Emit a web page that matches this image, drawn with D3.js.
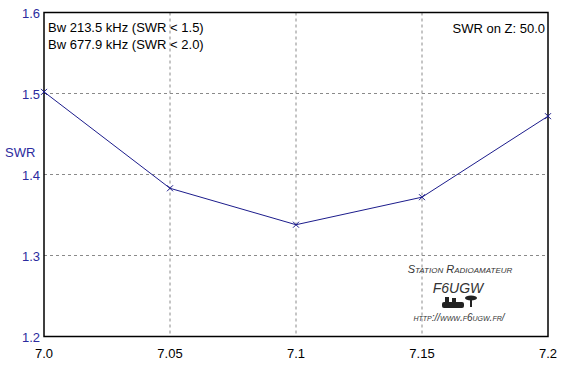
<!DOCTYPE html>
<html><head><meta charset="utf-8">
<script src="https://cdn.jsdelivr.net/npm/d3@7"></script>
<style>body{margin:0;background:#fff}svg{display:block}text{font-family:"Liberation Sans",Arial,sans-serif}</style>
</head><body>
<svg id="c" width="564" height="365"></svg>
<script>
const freqs = [7.0, 7.05, 7.1, 7.15, 7.2];
const swr = [1.502, 1.383, 1.338, 1.372, 1.472];
const xTicks = [7.0, 7.05, 7.1, 7.15, 7.2];
const xTickLabels = ["7.0", "7.05", "7.1", "7.15", "7.2"];
const yTicks = [1.2, 1.3, 1.4, 1.5, 1.6];
const yTickLabels = ["1.2", "1.3", "1.4", "1.5", "1.6"];
const infoLines = ["Bw 213.5 kHz (SWR < 1.5)", "Bw 677.9 kHz (SWR < 2.0)"];
const zLabel = "SWR on Z: 50.0";

const L = 44, R = 548, T = 12.5, B = 336.5;
const svg = d3.select("#c");
const x = d3.scaleLinear().domain([7.0, 7.2]).range([L, R]);
const y = d3.scaleLinear().domain([1.2, 1.6]).range([B, T]);

// grid
const g = svg.append("g");
g.selectAll(".hg").data(yTicks.slice(1, -1)).enter().append("line")
  .attr("x1", L).attr("x2", R).attr("y1", d => y(d)).attr("y2", d => y(d))
  .attr("stroke", "#8a8a8a").attr("stroke-dasharray", "3,3").attr("stroke-width", 1);
g.selectAll(".vg").data(xTicks.slice(1, -1)).enter().append("line")
  .attr("y1", T).attr("y2", B).attr("x1", d => x(d)).attr("x2", d => x(d))
  .attr("stroke", "#8a8a8a").attr("stroke-dasharray", "3,3").attr("stroke-width", 1);

// watermark
const wm = svg.append("g").attr("fill", "#333").attr("text-anchor", "middle");
wm.append("text").attr("x", 460).attr("y", 273).attr("font-size", 11).attr("font-style", "italic")
  .style("font-variant", "small-caps").text("Station Radioamateur");
wm.append("text").attr("x", 458).attr("y", 293).attr("font-size", 14).attr("font-style", "italic").text("F6UGW");
const ic = wm.append("g").attr("fill", "#222");
ic.append("rect").attr("x", 442).attr("y", 302).attr("width", 22).attr("height", 6).attr("rx", 2);
ic.append("rect").attr("x", 445).attr("y", 297).attr("width", 4).attr("height", 6);
ic.append("rect").attr("x", 452).attr("y", 298).attr("width", 4).attr("height", 5);
ic.append("ellipse").attr("cx", 471).attr("cy", 298).attr("rx", 6).attr("ry", 2.5);
ic.append("rect").attr("x", 470).attr("y", 299).attr("width", 2).attr("height", 8);
wm.append("text").attr("x", 459).attr("y", 321).attr("font-size", 10).attr("font-style", "italic")
  .style("font-variant", "small-caps").text("http://www.f6ugw.fr/");

// frame
svg.append("rect").attr("x", L).attr("y", T).attr("width", R - L).attr("height", B - T)
  .attr("fill", "none").attr("stroke", "#000").attr("stroke-width", 1.5);

// axes labels
svg.selectAll(".yl").data(yTicks).enter().append("text")
  .attr("x", 40).attr("y", d => y(d) + 5).attr("text-anchor", "end")
  .attr("font-size", 13).attr("fill", "#2b2b9e").text((d, i) => yTickLabels[i]);
svg.selectAll(".xl").data(xTicks).enter().append("text")
  .attr("x", d => x(d)).attr("y", 358).attr("text-anchor", "middle")
  .attr("font-size", 13).attr("fill", "#000").text((d, i) => xTickLabels[i]);
svg.append("text").attr("x", 5).attr("y", 157).attr("font-size", 13).attr("fill", "#2b2b9e").text("SWR");

// info
svg.selectAll(".info").data(infoLines).enter().append("text")
  .attr("x", 48).attr("y", (d, i) => 32 + i * 17).attr("font-size", 13).attr("fill", "#000").text(d => d);
svg.append("text").attr("x", 545).attr("y", 33).attr("text-anchor", "end")
  .attr("font-size", 13).attr("fill", "#000").text(zLabel);

// line
const pts = freqs.map((f, i) => [f, swr[i]]);
svg.append("path").datum(pts)
  .attr("d", d3.line().x(d => x(d[0])).y(d => y(d[1])))
  .attr("fill", "none").attr("stroke", "#1c1c8c").attr("stroke-width", 1);
svg.selectAll(".mk").data(pts).enter().append("path")
  .attr("d", d => { const cx = x(d[0]), cy = y(d[1]); return `M${cx-3},${cy-3}L${cx+3},${cy+3}M${cx-3},${cy+3}L${cx+3},${cy-3}`; })
  .attr("stroke", "#1c1c8c").attr("stroke-width", 1);
</script>
</body></html>
